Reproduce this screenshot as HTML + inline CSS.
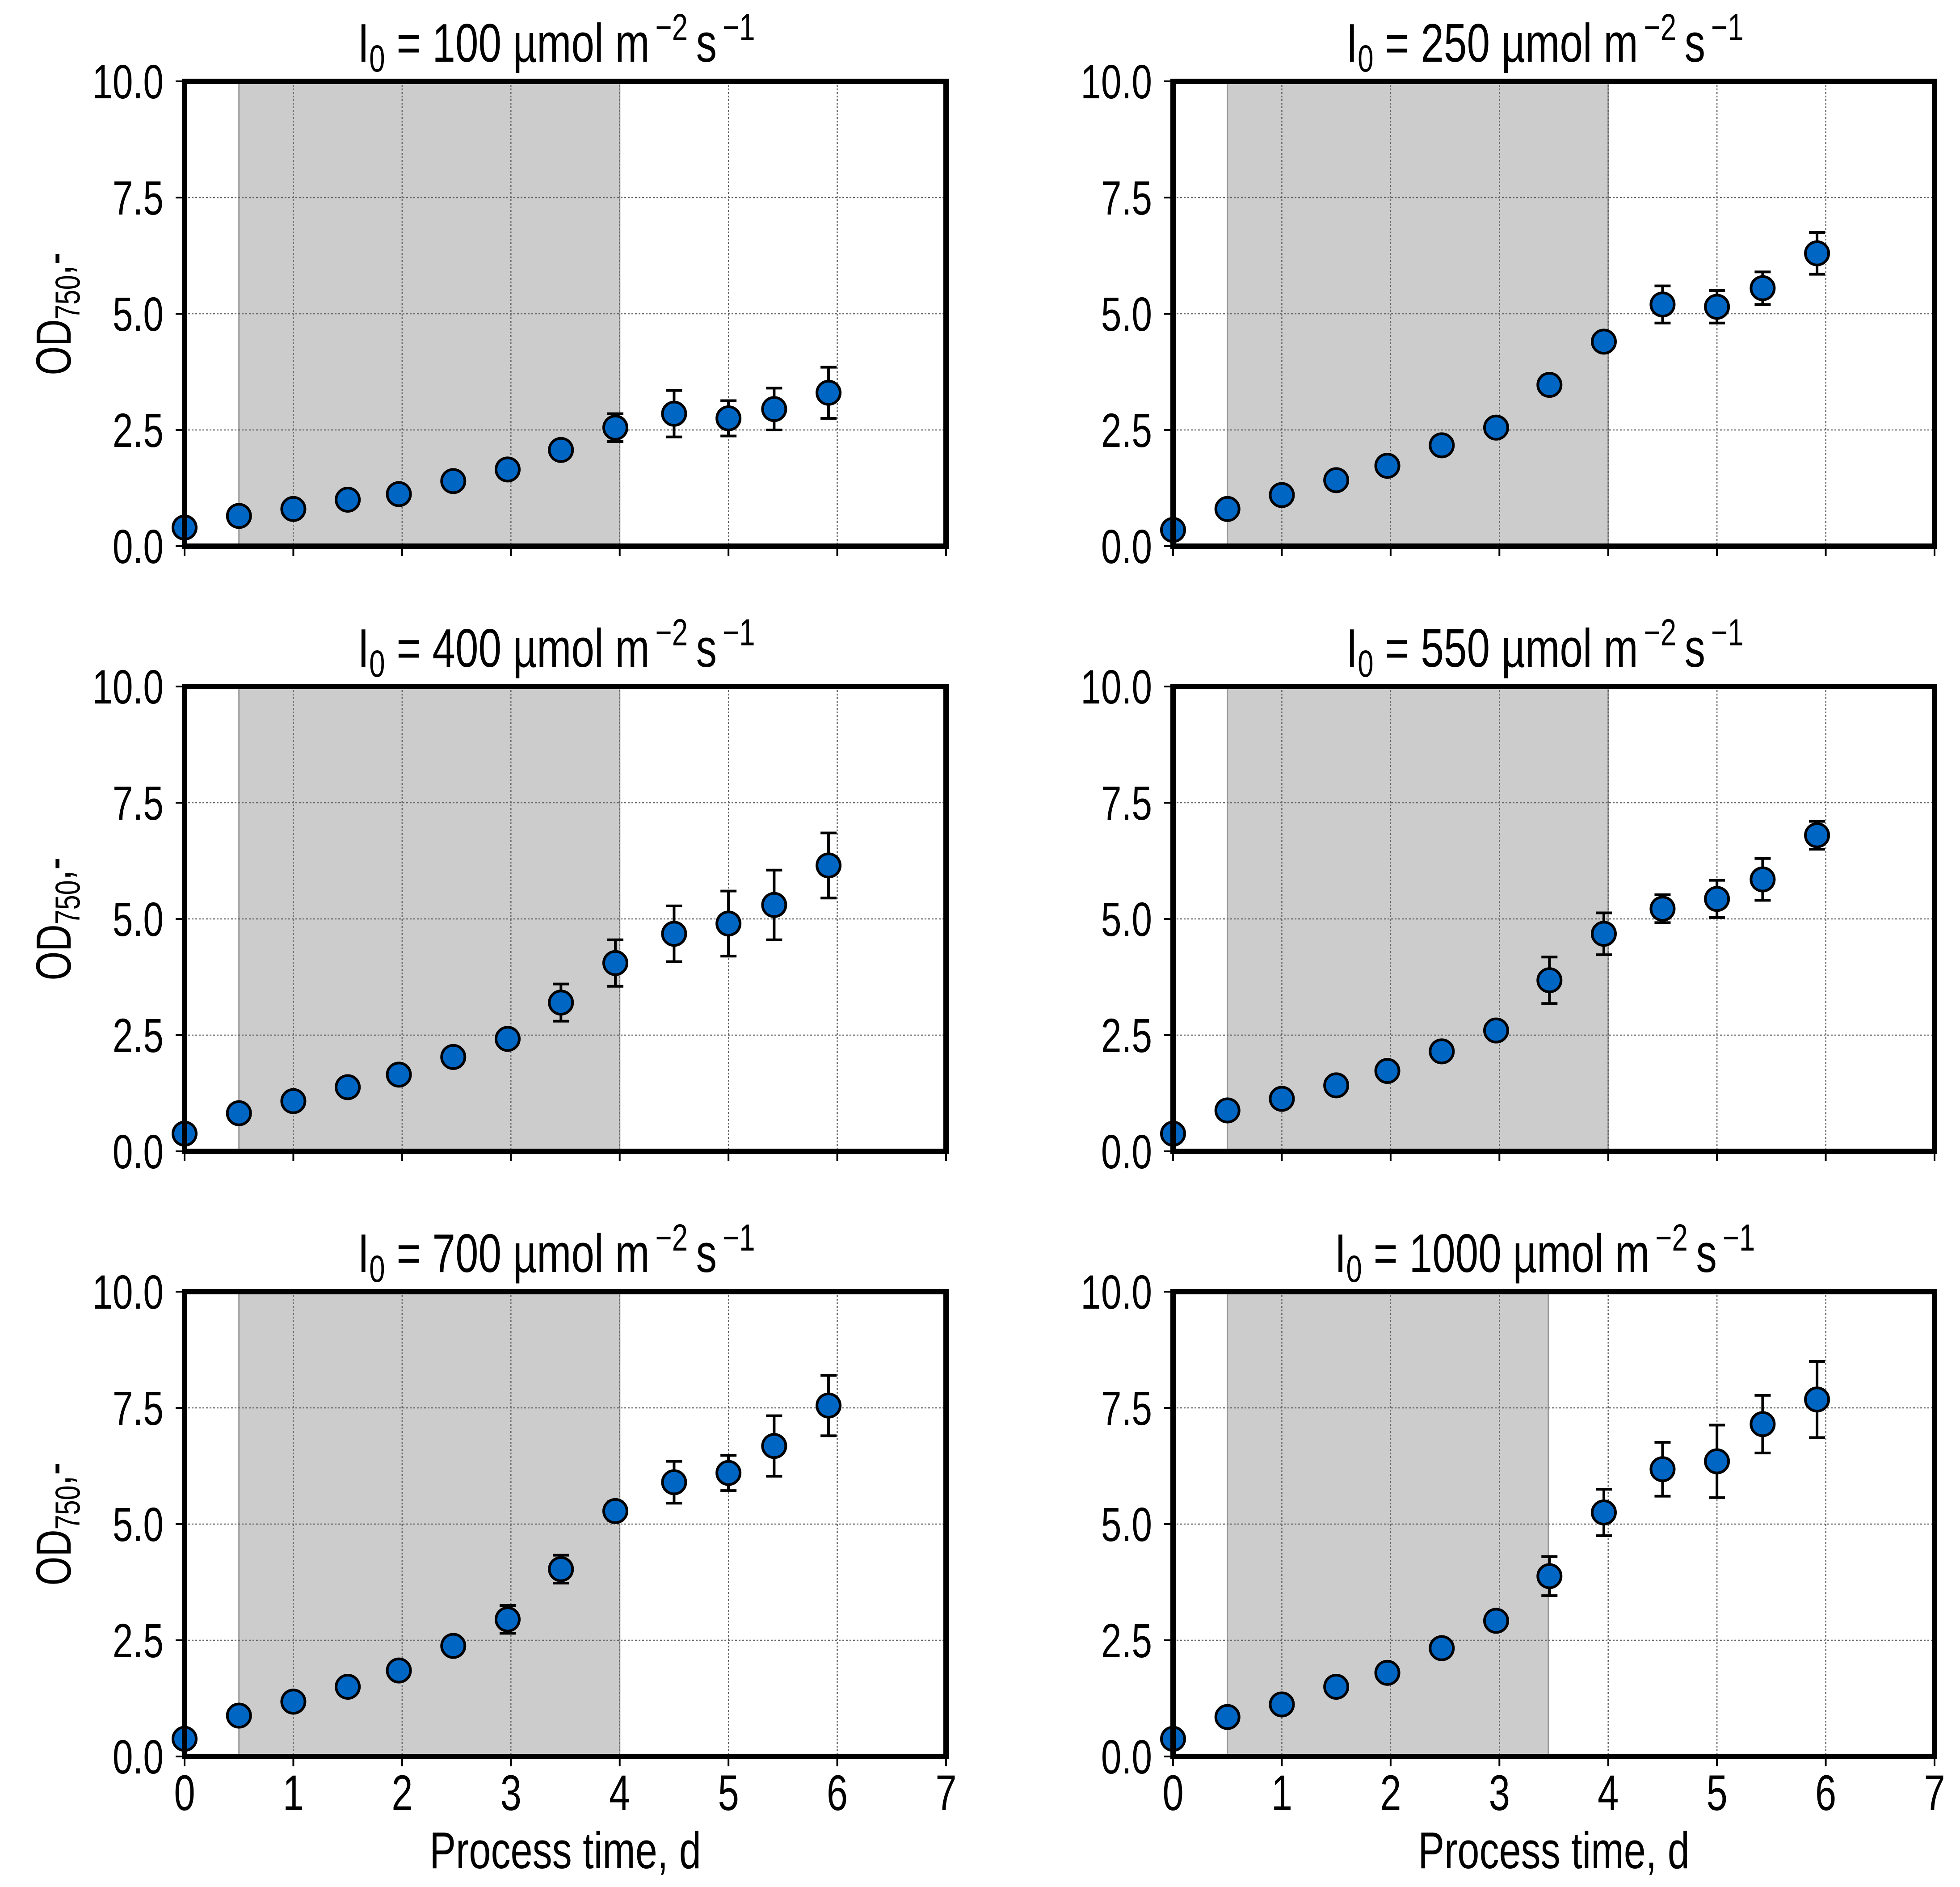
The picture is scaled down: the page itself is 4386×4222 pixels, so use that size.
<!DOCTYPE html>
<html><head><meta charset="utf-8"><style>html,body{margin:0;padding:0;background:#fff}svg{display:block}</style></head>
<body>
<svg id="fig" xmlns="http://www.w3.org/2000/svg" width="4386" height="4222" viewBox="0 0 4386 4222"></svg>
<script>
const xTicks = [0,1,2,3,4,5,6,7];
const yTicks = [0,2.5,5,7.5,10];
const yTickLabels = ["0.0","2.5","5.0","7.5","10.0"];
const times = [0,0.5,1,1.5,1.97,2.47,2.97,3.46,3.96,4.5,5,5.42,5.92];
const titles = ["100","250","400","550","700","1000"];
const shadeStart = [0.5,0.5,0.5,0.5,0.5,0.5];
const shadeEnd = [4,4,4,4,4,3.45];
const od100 = [0.4,0.65,0.8,1.0,1.12,1.4,1.65,2.07,2.55,2.85,2.75,2.95,3.3];
const err100 = [0,0,0,0,0,0,0,0.12,0.3,0.5,0.38,0.45,0.55];
const od250 = [0.35,0.8,1.1,1.42,1.73,2.17,2.55,3.47,4.4,5.2,5.15,5.55,6.3];
const err250 = [0,0,0,0,0,0,0,0.2,0.1,0.4,0.35,0.35,0.45];
const od400 = [0.38,0.82,1.08,1.38,1.65,2.03,2.42,3.2,4.05,4.68,4.9,5.3,6.15];
const err400 = [0,0,0,0,0,0.12,0.12,0.4,0.5,0.6,0.7,0.75,0.7];
const od550 = [0.38,0.88,1.13,1.42,1.73,2.15,2.6,3.68,4.68,5.22,5.43,5.85,6.8];
const err550 = [0,0,0,0,0,0,0,0.5,0.45,0.3,0.4,0.45,0.3];
const od700 = [0.38,0.88,1.18,1.5,1.85,2.38,2.95,4.03,5.28,5.9,6.1,6.68,7.55];
const err700 = [0,0,0,0,0,0,0.3,0.3,0.2,0.45,0.38,0.65,0.65];
const od1000 = [0.38,0.85,1.12,1.5,1.8,2.33,2.92,3.88,5.25,6.18,6.35,7.15,7.68];
const err1000 = [0,0,0,0,0,0.1,0.2,0.42,0.5,0.58,0.78,0.62,0.82];
const seriesY = [od100,od250,od400,od550,od700,od1000];
const seriesE = [err100,err250,err400,err550,err700,err1000];

const NS = "http://www.w3.org/2000/svg";
const svg = document.getElementById("fig");
function mk(tag, attrs, parent) {
  const e = document.createElementNS(NS, tag);
  for (const k in attrs) e.setAttribute(k, attrs[k]);
  (parent || svg).appendChild(e);
  return e;
}
const FONT = '"Liberation Sans", Arial, sans-serif';
const SX = 0.76;
function txt(parent, x, y, str, size, anchor, rot) {
  const g = mk("g", {transform: `translate(${x},${y})` + (rot ? ` rotate(${rot})` : "") + ` scale(${SX},1)`}, parent);
  const t = mk("text", {x: 0, y: 0, "font-family": FONT, "font-size": size, "text-anchor": anchor, fill: "#000"}, g);
  t.textContent = str;
  return t;
}
const colL = [413, 2625], rowT = [182, 1536, 2890];
const W = 1704, H = 1040;

for (let p = 0; p < 6; p++) {
  const L = colL[p % 2], T = rowT[Math.floor(p / 2)];
  const xs = v => L + v / 7 * W;
  const ys = v => T + H - v / 10 * H;
  const g = mk("g", {});
  
  
  const sh = mk("rect", {x: xs(shadeStart[p]), y: T, width: xs(shadeEnd[p]) - xs(shadeStart[p]), height: H, fill: "#cccccc", stroke: "#999", "stroke-width": 3}, g);
  
  
  for (let i = 1; i < xTicks.length - 1; i++) {
    const gl = mk("line", {x1: xs(xTicks[i]), x2: xs(xTicks[i]), y1: T, y2: T + H, stroke: "#666", "stroke-width": 2.5, "stroke-dasharray": "4,4"}, g);
    
    
  }
  for (let i = 1; i < yTicks.length - 1; i++) {
    const gl = mk("line", {x1: L, x2: L + W, y1: ys(yTicks[i]), y2: ys(yTicks[i]), stroke: "#666", "stroke-width": 2.5, "stroke-dasharray": "4,4"}, g);
    
    
  }
  xTicks.forEach(v => {
    const tk = mk("line", {x1: xs(v), x2: xs(v), y1: T + H, y2: T + H + 22, stroke: "#000", "stroke-width": 4}, g);
    
    
  });
  yTicks.forEach((v, i) => {
    const tk = mk("line", {x1: L - 20, x2: L, y1: ys(v), y2: ys(v), stroke: "#000", "stroke-width": 4}, g);
    
    
    const lb = txt(g, L - 47, ys(v) + 38, yTickLabels[i], 108, "end");
    
    
  });
  if (Math.floor(p / 2) === 2) {
    xTicks.forEach(v => {
      const lb = txt(g, xs(v), T + H + 120, String(v), 112, "middle");
      
      
    });
    const xl = txt(g, L + W / 2, 4180, "Process time, d", 116, "middle");
    
    
  }
  if (p % 2 === 0) {
    const yl = txt(g, 158, T + H / 2, "", 110, "middle", -90);
    
    
    const a = mk("tspan", {}, yl); a.textContent = "OD";
    const b = mk("tspan", {"font-size": 78, dy: 20}, yl); b.textContent = "750";
    const c = mk("tspan", {dy: -20}, yl); c.textContent = ",-";
  }
  const tt = txt(g, L + W / 2 - 20, T - 44, "", 122, "middle");
  
  
  const parts = [["I", 0, 122], ["0", 22, 84], [" = " + titles[p] + " µmol m", -22, 122], ["\u2009−2", -48, 84], ["\u2009s", 48, 122], ["\u2009−1", -48, 84]];
  parts.forEach(([s, dy, fs]) => { const ts = mk("tspan", {dy: dy, "font-size": fs}, tt); ts.textContent = s; });
  const ys_ = seriesY[p], es = seriesE[p];
  times.forEach((t, i) => {
    const pg = mk("g", {}, g);
    
    
    if (es[i] > 0) {
      const x = xs(t), y1 = ys(ys_[i] + es[i]), y2 = ys(ys_[i] - es[i]);
      mk("line", {x1: x, x2: x, y1: y1, y2: y2, stroke: "#000", "stroke-width": 6}, pg);
      mk("line", {x1: x - 18, x2: x + 18, y1: y1, y2: y1, stroke: "#000", "stroke-width": 6}, pg);
      mk("line", {x1: x - 18, x2: x + 18, y1: y2, y2: y2, stroke: "#000", "stroke-width": 6}, pg);
    }
    mk("circle", {cx: xs(t), cy: ys(ys_[i]), r: 26, fill: "#0066c4", stroke: "#000", "stroke-width": 6}, pg);
  });
  const fr = mk("rect", {x: L, y: T, width: W, height: H, fill: "none", stroke: "#000", "stroke-width": 12}, g);
  
  
}
</script>
</body></html>
